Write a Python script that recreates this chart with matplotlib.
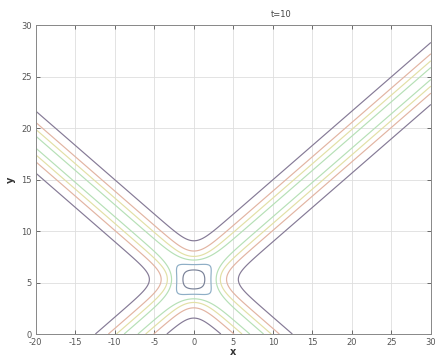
import numpy as np
import matplotlib
matplotlib.use('Agg')
import matplotlib.pyplot as plt

plt.rcParams['axes.unicode_minus'] = False

# two crossing line solitons
x_range = [-20, 30]
y_range = [0, 30]
center = [0.0, 5.3]
slopes = [-2/3, 2/3]
width_k = 0.6

levels = [0.18, 0.45, 0.70, 0.92, 1.24, 1.63]
level_colors = ['#857a96', '#e2b4a2', '#e2e0a6', '#b6e0b6', '#8eaec6', '#7a8298']

x_ticks = [-20, -15, -10, -5, 0, 5, 10, 15, 20, 25, 30]
y_ticks = [0, 5, 10, 15, 20, 25, 30]


def field(X, Y):
    f = np.zeros_like(X)
    for m in slopes:
        # perpendicular distance to the band centre line
        d = (Y - center[1] - m * (X - center[0])) / np.sqrt(1 + m * m)
        f += 1.0 / np.cosh(width_k * d) ** 2
    return f


x = np.linspace(x_range[0], x_range[1], 600)
y = np.linspace(y_range[0], y_range[1], 400)
X, Y = np.meshgrid(x, y)
Z = field(X, Y)

fig = plt.figure(figsize=(4.37, 3.58), dpi=100)
ax = fig.add_axes([0.082, 0.067, 0.904, 0.863])

ax.contour(X, Y, Z, levels=levels, colors=level_colors, linewidths=0.85)

ax.set_xlim(x_range)
ax.set_ylim(y_range)
ax.set_xticks(x_ticks)
ax.set_yticks(y_ticks)
ax.grid(True, color='#dedede', linewidth=0.6)
ax.set_axisbelow(True)
ax.tick_params(direction='in', length=3, width=0.6, colors='#555555',
               labelsize=6, top=True, right=True, pad=3)
for s in ax.spines.values():
    s.set_color('#888888')
    s.set_linewidth(0.7)

fig.text(0.534, 0.003, 'x', ha='center', va='bottom', fontsize=7,
         color='#333333', fontweight='bold')
ax.set_ylabel('y', fontsize=7, color='#333333', labelpad=4, rotation=90, fontweight='bold')
ax.text(0.622, 1.02, 't=10', transform=ax.transAxes, ha='center', va='bottom',
        fontsize=6, color='#444444')

fig.savefig('out.png', dpi=100)
